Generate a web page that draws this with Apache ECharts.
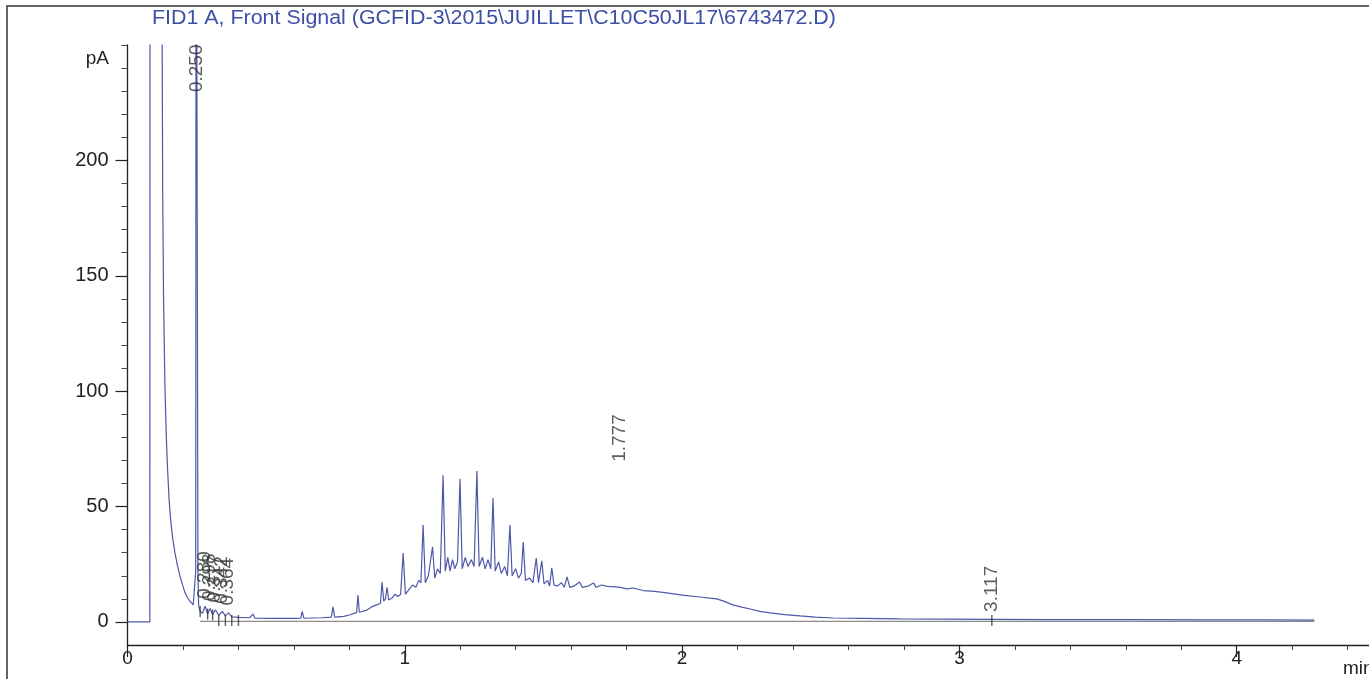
<!DOCTYPE html>
<html>
<head>
<meta charset="utf-8">
<script src="https://cdn.jsdelivr.net/npm/echarts@6/dist/echarts.min.js"></script>
<style>
  html, body { margin: 0; padding: 0; background: #ffffff; }
  #chart { width: 1369px; height: 679px; }
</style>
</head>
<body>
<div id="chart"></div>
<script>
// FID1 A front signal: retention time (min) and detector signal (pA)
const traceTime = [
  0, 0.0805, 0.0815, 0.1235, 0.1250, 0.1270, 0.1300, 0.1350, 0.1400, 0.1450,
  0.1500, 0.1550, 0.1620, 0.1710, 0.1800, 0.1900, 0.2000, 0.2070, 0.2160, 0.2250,
  0.2370, 0.2440, 0.2460, 0.2475, 0.2500, 0.2525, 0.2540, 0.2565, 0.2620, 0.2700,
  0.2800, 0.2890,
  0.2980, 0.3070, 0.3170, 0.3290, 0.3420, 0.3530, 0.3640, 0.3760, 0.4000, 0.4400,
  0.4520, 0.4600, 0.5200, 0.6000, 0.6250, 0.6300, 0.6360, 0.7000, 0.7350, 0.7410,
  0.7470, 0.7800, 0.8000, 0.8260, 0.8310, 0.8360, 0.8600, 0.8800, 0.9000, 0.9120,
  0.9180, 0.9240, 0.9300, 0.9360, 0.9420, 0.9550, 0.9650, 0.9750, 0.9850, 0.9940,
  1.0020, 1.0150, 1.0280, 1.0400, 1.0500, 1.0580, 1.0660, 1.0740, 1.0850, 1.1000,
  1.1080, 1.1180, 1.1280, 1.1380, 1.1460, 1.1550, 1.1630, 1.1720, 1.1800, 1.1900,
  1.1990, 1.2070, 1.2180, 1.2280, 1.2400, 1.2500, 1.2600, 1.2680, 1.2800, 1.2900,
  1.3000, 1.3100, 1.3180, 1.3260, 1.3380, 1.3480, 1.3600, 1.3700, 1.3790, 1.3870,
  1.4000, 1.4100, 1.4200, 1.4270, 1.4350, 1.4500, 1.4620, 1.4740, 1.4820, 1.4940,
  1.5020, 1.5150, 1.5220, 1.5300, 1.5380, 1.5500, 1.5650, 1.5750, 1.5850, 1.5950,
  1.6100, 1.6300, 1.6400, 1.6600, 1.6800, 1.6900, 1.7100, 1.7300, 1.7600, 1.7770,
  1.8000, 1.8230, 1.8600, 1.9000, 1.9450, 2.0000, 2.0640, 2.1000, 2.1250, 2.1500,
  2.1830, 2.2150, 2.2450, 2.2800, 2.3170, 2.3700, 2.4250, 2.4800, 2.5450, 2.6500,
  2.7860, 2.9500, 3.1170, 3.3000, 3.6000, 3.9000, 4.1000, 4.2800
];
const traceSignal = [
  0, 0, 400, 400, 250, 185, 140, 102, 80, 65,
  53, 45, 37, 30, 24.5, 19.5, 15.5, 12.8, 10.6, 9,
  7.4, 7.6, 22, 400, 400, 400, 22, 7, 4.5, 3.8,
  6.8, 3.4,
  5.8, 3.1, 5.2, 2.9, 4.6, 2.6, 3.9, 2.2, 2.0, 1.8,
  3.4, 1.6, 1.5, 1.5, 1.6, 4.6, 1.6, 1.8, 2.1, 6.5,
  2.1, 2.4, 3.0, 4.0, 11.7, 4.2, 5.0, 6.5, 7.5, 8.0,
  17.3, 9.0, 10.0, 15.0, 9.5, 10.5, 12.0, 11.0, 12.0, 29.8,
  12.0, 14.0, 16.0, 15.0, 18.0, 17.0, 42.0, 17.0, 20.0, 32.5,
  19.0, 23.0, 21.0, 63.6, 22.0, 28.0, 22.0, 27.0, 23.0, 26.0,
  62.0, 23.0, 28.0, 24.0, 27.0, 24.0, 65.4, 24.0, 28.0, 23.0,
  27.0, 23.0, 53.7, 22.0, 26.0, 21.0, 24.0, 20.0, 42.0, 20.0,
  23.0, 19.0, 21.0, 34.6, 18.0, 19.0, 17.0, 27.7, 17.0, 26.5,
  16.5, 18.0, 15.5, 23.4, 16.0, 15.5, 17.0, 15.0, 19.5, 15.0,
  15.5, 17.3, 15.0, 15.5, 16.9, 15.0, 16.0, 15.4, 15.2, 15.0,
  14.3, 14.7, 13.6, 13.2, 12.6, 11.6, 10.8, 10.3, 10.0, 9.0,
  7.4, 6.4, 5.6, 4.6, 3.9, 3.2, 2.6, 2.1, 1.7, 1.5,
  1.3, 1.2, 1.1, 1.0, 1.0, 0.9, 0.9, 0.8
];

// Integration baseline and peak start/end marks
const baselineTime = [0.262, 4.28];
const baselineSignal = [0.2, 0.2];
const boundaryTimes = [0.262, 0.289, 0.307, 0.329, 0.353, 0.376, 0.400, 3.117];

// Labelled retention times (min)
const peakTimes = [0.250, 0.280, 0.298, 0.317, 0.342, 0.364, 1.777, 3.117];

// Axis ticks
const xMajorTicks = [0, 1, 2, 3, 4];
const xMinorTicks = [0.2, 0.4, 0.6, 0.8, 1.2, 1.4, 1.6, 1.8, 2.2, 2.4, 2.6, 2.8,
                     3.2, 3.4, 3.6, 3.8, 4.2, 4.4];
const yMajorTicks = [0, 50, 100, 150, 200];
const yMinorTicks = [10, 20, 30, 40, 60, 70, 80, 90, 110, 120, 130, 140,
                     160, 170, 180, 190, 210, 220, 230, 240, 250];

const titleText = 'FID1 A, Front Signal (GCFID-3\\2015\\JUILLET\\C10C50JL17\\6743472.D)';
const yUnit = 'pA';
const xUnit = 'min';

// ---- drawing ----
const Y_MIN = -10, Y_MAX = 250, X_MIN = 0, X_MAX = 4.477;
const FONT = "'Liberation Sans', Arial, sans-serif";
const INK = '#222222';
const TRACE = '#4e58aa';
// extra lift (px) of some retention-time labels above their apex
const labelLift = { '1.777': 125 };

function signalAt(t) {
  for (let i = 0; i < traceTime.length - 1; i++) {
    const a = traceTime[i], b = traceTime[i + 1];
    if (t >= a && t <= b) {
      const f = b === a ? 0 : (t - a) / (b - a);
      return traceSignal[i] + f * (traceSignal[i + 1] - traceSignal[i]);
    }
  }
  return traceSignal[traceSignal.length - 1];
}

const traceData = traceTime.map((t, i) => [t, traceSignal[i]]);
const baselineData = baselineTime.map((t, i) => [t, baselineSignal[i]]);
const boundaryData = boundaryTimes.map(t => [t, signalAt(t) < 3 ? 0.6 : signalAt(t)]);

const peakData = peakTimes.map(t => {
  const apex = signalAt(t);
  const offScale = apex >= Y_MAX;
  const key = t.toFixed(3);
  return {
    value: [t, offScale ? Y_MAX : apex],
    label: {
      formatter: key,
      align: offScale ? 'right' : 'left',
      position: [0, offScale ? 0 : -(labelLift[key] !== undefined ? labelLift[key] : 7)]
    }
  };
});

const chart = echarts.init(document.getElementById('chart'), null, { renderer: 'canvas' });

chart.setOption({
  animation: false,
  backgroundColor: '#ffffff',
  textStyle: { fontFamily: FONT },
  grid: { left: 127.5, top: 45, right: 0, bottom: 34 },
  xAxis: [
    {
      type: 'value',
      min: X_MIN,
      max: X_MAX,
      position: 'bottom',
      axisLine: { onZero: false, lineStyle: { color: INK, width: 1.3 } },
      axisTick: { length: 12, customValues: xMajorTicks, lineStyle: { color: INK, width: 1.2 } },
      splitLine: { show: false },
      axisLabel: { customValues: xMajorTicks, fontSize: 19, color: INK, margin: 4, fontFamily: FONT }
    },
    {
      type: 'value',
      min: X_MIN,
      max: X_MAX,
      position: 'bottom',
      offset: 0,
      axisLine: { show: false, onZero: false },
      axisTick: { length: 5, customValues: xMinorTicks, lineStyle: { color: '#444', width: 1 } },
      axisLabel: { show: false },
      splitLine: { show: false }
    }
  ],
  yAxis: [
    {
      type: 'value',
      min: Y_MIN,
      max: Y_MAX,
      position: 'left',
      axisLine: { show: true, onZero: false, lineStyle: { color: INK, width: 1.3 } },
      axisTick: { show: true, length: 12, customValues: yMajorTicks, lineStyle: { color: INK, width: 1.2 } },
      axisLabel: { customValues: yMajorTicks, fontSize: 20, color: INK, margin: 19, fontFamily: FONT },
      splitLine: { show: false }
    },
    {
      type: 'value',
      min: Y_MIN,
      max: Y_MAX,
      position: 'left',
      offset: 0,
      axisLine: { show: false, onZero: false },
      axisTick: { show: true, length: 6, customValues: yMinorTicks, lineStyle: { color: '#444', width: 1 } },
      axisLabel: { show: false },
      splitLine: { show: false }
    }
  ],
  series: [
    {
      name: 'baseline',
      type: 'line',
      data: baselineData,
      showSymbol: false,
      silent: true,
      lineStyle: { color: '#8e8a8c', width: 1.2 },
      z: 2
    },
    {
      name: 'signal',
      type: 'line',
      data: traceData,
      showSymbol: false,
      clip: true,
      lineStyle: { color: TRACE, width: 1.2 },
      z: 3
    },
    {
      name: 'peak bounds',
      type: 'scatter',
      data: boundaryData,
      symbol: 'rect',
      symbolSize: [1.4, 11],
      itemStyle: { color: '#333' },
      z: 4
    },
    {
      name: 'retention times',
      type: 'scatter',
      data: peakData,
      symbolSize: 1,
      clip: false,
      itemStyle: { color: 'rgba(0,0,0,0)' },
      label: {
        show: true,
        rotate: 90,
        verticalAlign: 'middle',
        fontSize: 19,
        color: '#333',
        fontFamily: FONT
      },
      z: 5
    }
  ],
  graphic: [
    {
      type: 'rect',
      shape: { x: 7, y: 6, width: 1420, height: 720 },
      style: { fill: 'none', stroke: '#333', lineWidth: 1.5 },
      silent: true
    },
    {
      type: 'text',
      x: 152, y: 18,
      scaleX: 1.07,
      style: { text: titleText, fill: '#3d50a6', font: "20px 'Liberation Sans', Arial, sans-serif", textVerticalAlign: 'middle' }
    },
    {
      type: 'text',
      x: 109, y: 59,
      style: { text: yUnit, fill: INK, font: "19px 'Liberation Sans', Arial, sans-serif", textAlign: 'right', textVerticalAlign: 'middle' }
    },
    {
      type: 'text',
      x: 1343, y: 669,
      style: { text: xUnit, fill: INK, font: "19px 'Liberation Sans', Arial, sans-serif", textAlign: 'left', textVerticalAlign: 'middle' }
    }
  ]
});
</script>
</body>
</html>
